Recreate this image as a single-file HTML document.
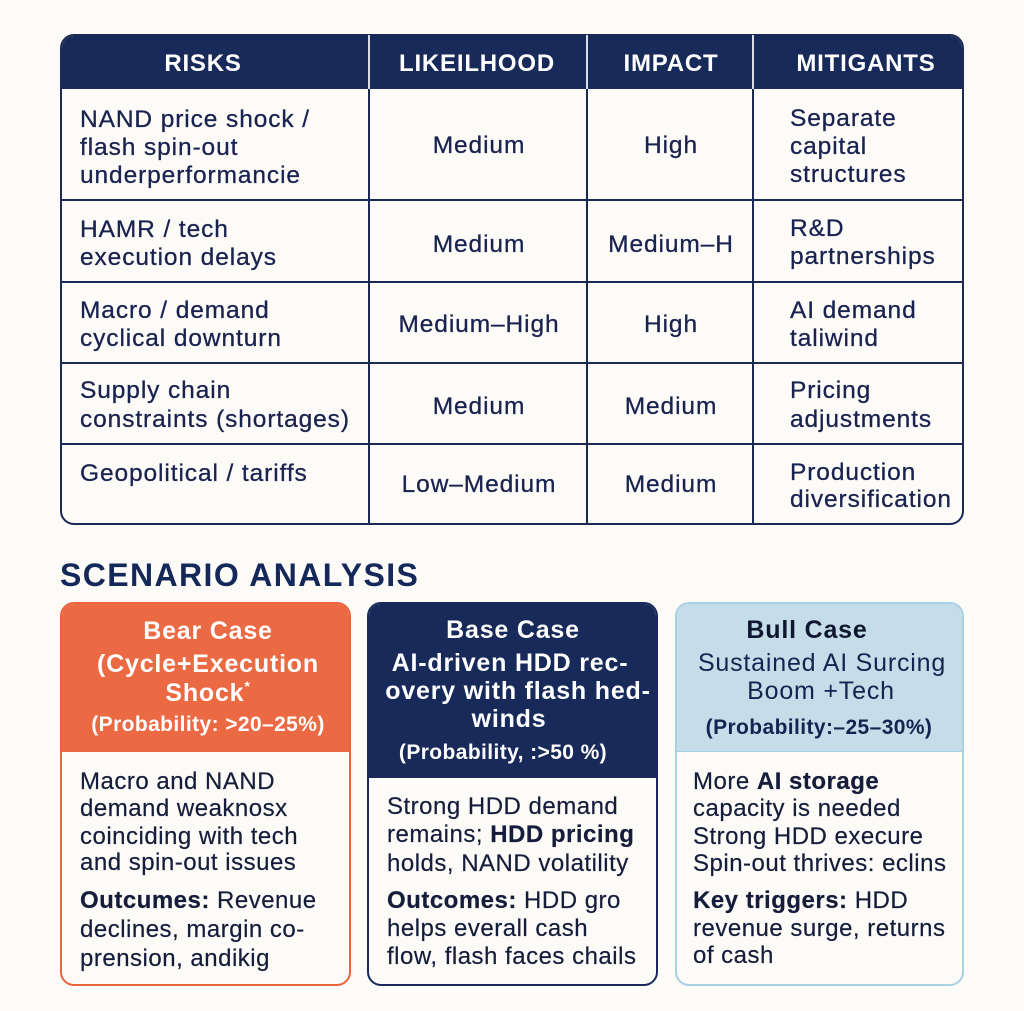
<!DOCTYPE html>
<html><head><meta charset="utf-8">
<style>
*{margin:0;padding:0;box-sizing:border-box}
html,body{width:1024px;height:1011px;background:#fcfbf8;overflow:hidden}
body{position:relative;font-family:"Liberation Sans",Arial,sans-serif;color:#17204a}
.a{position:absolute}
.t{position:absolute;white-space:nowrap;line-height:1}
.c{width:320px;text-align:center}
.hd{font-size:24px;font-weight:bold;color:#fff;letter-spacing:0.8px}
.tb{font-size:24.5px;letter-spacing:0.9px;color:#1a2350;-webkit-text-stroke:0.3px #1a2350}
.hl{background:#1b2a55;height:2px}
.vl{background:#1b2a55;width:2px}
.card{position:absolute;border-radius:14px;overflow:hidden;background:#fcfbf8}
.ch{position:absolute;left:0;top:0;right:0}
.ct{font-size:25px;font-weight:bold;letter-spacing:0.8px}
.cp{font-size:21px;font-weight:bold;letter-spacing:0.4px}
.bd{font-size:24px;letter-spacing:0.5px;color:#151d3b;-webkit-text-stroke:0.2px #151d3b}
</style></head>
<body>

<!-- TABLE -->
<div class="a" style="left:60px;top:34px;width:904px;height:491px;border:2.5px solid #1b2a55;border-radius:14px;overflow:hidden;background:#fcfbf8">
  <div class="a" style="left:0;top:0;right:0;height:53px;background:#172a5a"></div>
</div>
<div class="a" style="left:368px;top:35px;width:2px;height:54px;background:#d9dde6"></div>
<div class="a" style="left:586px;top:35px;width:2px;height:54px;background:#d9dde6"></div>
<div class="a" style="left:752px;top:35px;width:2px;height:54px;background:#d9dde6"></div>
<div class="a vl" style="left:368px;top:89px;height:434px"></div>
<div class="a vl" style="left:586px;top:89px;height:434px"></div>
<div class="a vl" style="left:752px;top:89px;height:434px"></div>
<div class="a hl" style="left:61px;top:199px;width:902px"></div>
<div class="a hl" style="left:61px;top:281px;width:902px"></div>
<div class="a hl" style="left:61px;top:362px;width:902px"></div>
<div class="a hl" style="left:61px;top:443px;width:902px"></div>

<div class="t c hd" style="left:43px;top:52px">RISKS</div>
<div class="t c hd" style="left:317px;top:52px">LIKEILHOOD</div>
<div class="t c hd" style="left:511px;top:52px">IMPACT</div>
<div class="t c hd" style="left:706px;top:52px">MITIGANTS</div>

<div class="t tb" style="left:80px;top:108px">NAND price shock /</div>
<div class="t tb" style="left:80px;top:136px">flash spin-out</div>
<div class="t tb" style="left:80px;top:164px">underperformancie</div>
<div class="t tb" style="left:80px;top:218px">HAMR / tech</div>
<div class="t tb" style="left:80px;top:246px">execution delays</div>
<div class="t tb" style="left:80px;top:299px">Macro / demand</div>
<div class="t tb" style="left:80px;top:327px">cyclical downturn</div>
<div class="t tb" style="left:80px;top:379px">Supply chain</div>
<div class="t tb" style="left:80px;top:408px">constraints (shortages)</div>
<div class="t tb" style="left:80px;top:462px">Geopolitical / tariffs</div>

<div class="t c tb" style="left:319px;top:134px">Medium</div>
<div class="t c tb" style="left:319px;top:233px">Medium</div>
<div class="t c tb" style="left:319px;top:313px">Medium–High</div>
<div class="t c tb" style="left:319px;top:395px">Medium</div>
<div class="t c tb" style="left:319px;top:473px">Low–Medium</div>

<div class="t c tb" style="left:511px;top:134px">High</div>
<div class="t c tb" style="left:511px;top:233px">Medium–H</div>
<div class="t c tb" style="left:511px;top:313px">High</div>
<div class="t c tb" style="left:511px;top:395px">Medium</div>
<div class="t c tb" style="left:511px;top:473px">Medium</div>

<div class="t tb" style="left:790px;top:107px">Separate</div>
<div class="t tb" style="left:790px;top:135px">capital</div>
<div class="t tb" style="left:790px;top:163px">structures</div>
<div class="t tb" style="left:790px;top:217px">R&amp;D</div>
<div class="t tb" style="left:790px;top:245px">partnerships</div>
<div class="t tb" style="left:790px;top:299px">AI demand</div>
<div class="t tb" style="left:790px;top:327px">taliwind</div>
<div class="t tb" style="left:790px;top:379px">Pricing</div>
<div class="t tb" style="left:790px;top:408px">adjustments</div>
<div class="t tb" style="left:790px;top:461px">Production</div>
<div class="t tb" style="left:790px;top:488px">diversification</div>

<div class="t" style="left:60px;top:559px;font-size:32px;font-weight:bold;letter-spacing:1.4px;color:#15285a">SCENARIO ANALYSIS</div>

<div class="card" style="left:60px;top:602px;width:291px;height:384px;border:2px solid #e9633c">
  <div class="ch" style="height:148px;background:#eb6a44"></div>
</div>
<div class="card" style="left:367px;top:602px;width:291px;height:384px;border:2px solid #172a5a">
  <div class="ch" style="height:174px;background:#172a5a"></div>
</div>
<div class="card" style="left:675px;top:602px;width:289px;height:384px;border:2px solid #a9cfe2">
  <div class="ch" style="height:148px;background:#c5dde9;border-bottom:1px solid #a9cfe2"></div>
</div>

<div class="t c ct" style="left:48px;top:619px;color:#fff">Bear Case</div>
<div class="t c ct" style="left:48px;top:652px;color:#fff">(Cycle+Execution</div>
<div class="t c ct" style="left:48px;top:679px;color:#fff">Shock<sup style="font-size:14px;vertical-align:10px">*</sup></div>
<div class="t c cp" style="left:48px;top:714px;color:#fff">(Probability: &gt;20–25%)</div>

<div class="t c ct" style="left:353px;top:618px;color:#fff">Base Case</div>
<div class="t c ct" style="left:350px;top:651px;color:#fff">AI-driven HDD rec-</div>
<div class="t c ct" style="left:358px;top:679px;color:#fff">overy with flash hed-</div>
<div class="t c ct" style="left:349px;top:707px;color:#fff">winds</div>
<div class="t c cp" style="left:343px;top:742px;color:#fff">(Probability, :&gt;50 %)</div>

<div class="t c ct" style="left:647px;top:618px;color:#0e1730">Bull Case</div>
<div class="t c" style="left:662px;top:651px;font-size:25px;letter-spacing:0.8px;color:#14234f">Sustained AI Surcing</div>
<div class="t c" style="left:661px;top:679px;font-size:25px;letter-spacing:0.8px;color:#14234f">Boom +Tech</div>
<div class="t c cp" style="left:659px;top:717px;color:#14234f">(Probability:–25–30%)</div>

<div class="t bd" style="left:80px;top:770px">Macro and NAND</div>
<div class="t bd" style="left:80px;top:797px">demand weaknosx</div>
<div class="t bd" style="left:80px;top:825px">coinciding with tech</div>
<div class="t bd" style="left:80px;top:851px">and spin-out issues</div>
<div class="t bd" style="left:80px;top:889px"><b>Outcumes:</b> Revenue</div>
<div class="t bd" style="left:80px;top:918px">declines, margin co-</div>
<div class="t bd" style="left:80px;top:947px">prension, andikig</div>

<div class="t bd" style="left:387px;top:795px">Strong HDD demand</div>
<div class="t bd" style="left:387px;top:823px">remains; <b>HDD pricing</b></div>
<div class="t bd" style="left:387px;top:852px">holds, NAND volatility</div>
<div class="t bd" style="left:387px;top:889px"><b>Outcomes:</b> HDD gro</div>
<div class="t bd" style="left:387px;top:917px">helps everall cash</div>
<div class="t bd" style="left:387px;top:945px">flow, flash faces chails</div>

<div class="t bd" style="left:693px;top:770px">More <b>AI storage</b></div>
<div class="t bd" style="left:693px;top:797px">capacity is needed</div>
<div class="t bd" style="left:693px;top:825px">Strong HDD execure</div>
<div class="t bd" style="left:693px;top:852px">Spin-out thrives: eclins</div>
<div class="t bd" style="left:693px;top:889px"><b>Key triggers:</b> HDD</div>
<div class="t bd" style="left:693px;top:917px">revenue surge, returns</div>
<div class="t bd" style="left:693px;top:944px">of cash</div>

</body></html>
